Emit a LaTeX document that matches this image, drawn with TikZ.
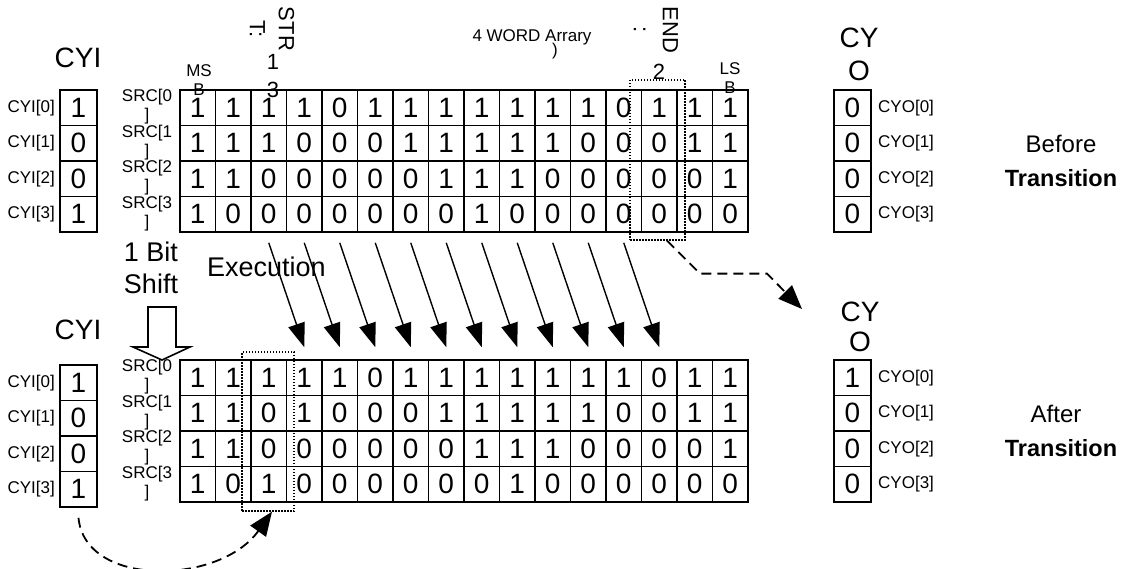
\documentclass[tikz,border=0pt]{standalone}
\usepackage{fontspec}
\setmainfont{Liberation Sans}
\usetikzlibrary{arrows.meta}
\begin{document}
\begin{tikzpicture}[x=1pt,y=-1pt,
  cell/.style={draw, line width=1.6pt, minimum width=35.5pt, minimum height=35.5pt, inner sep=0pt, font=\fontsize{28}{30}\selectfont},
  cybox/.style={cell, minimum width=37pt},
  small/.style={font=\fontsize{17}{19}\selectfont, inner sep=0pt, align=center},
  title/.style={font=\fontsize{28}{33}\selectfont, inner sep=0pt, align=center},
  big/.style={font=\fontsize{27}{32}\selectfont, inner sep=0pt, align=center},
  mid/.style={font=\fontsize{22}{29}\selectfont, inner sep=0pt, align=center},
  side/.style={font=\fontsize{24}{28}\selectfont, inner sep=0pt},
  sidebold/.style={font=\fontsize{23.5}{28}\selectfont\bfseries, inner sep=0pt},
  exarrow/.style={line width=1.4pt, -{Triangle[length=24pt,width=17pt]}},
  dashedarrow/.style={line width=1.8pt, dash pattern=on 10pt off 6pt, -{Triangle[length=24pt,width=19pt]}},
  dottedbox/.style={draw, line width=1.3pt, dash pattern=on 1.5pt off 1.5pt, inner sep=0pt},
]
\fill[white] (0,0) rectangle (1124,569);
\useasboundingbox (0,0) rectangle (1124,569);

% ---------- top (before) ----------
\foreach \row [count=\r from 0] in {{1,1,1,1,0,1,1,1,1,1,1,1,0,1,1,1},{1,1,1,0,0,0,1,1,1,1,1,0,0,0,1,1},{1,1,0,0,0,0,0,1,1,1,0,0,0,0,0,1},{1,0,0,0,0,0,0,0,1,0,0,0,0,0,0,0}}{
  \foreach \v [count=\c from 0] in \row {
    \node[cell] (t-\r-\c) at ({180+35.5*(\c+0.5)}, {90+35.5*(\r+0.5)}) {\v};
  }
}
\foreach \v [count=\r from 0] in {1,0,0,1}{
  \node[cybox] (cit-\r) at (78.5, {90+35.5*(\r+0.5)}) {\v};
  \node[small, anchor=east] (citl-\r) at (55, {90+35.5*(\r+0.5)}) {CYI[\r]};
  \node[small] (srct-\r) at (147, {107+35.5*\r}) {SRC[\r\\]};
}
\foreach \v [count=\r from 0] in {0,0,0,0}{
  \node[cybox] (cot-\r) at (852.5, {90+35.5*(\r+0.5)}) {\v};
  \node[small, anchor=west] (cotl-\r) at (878, {90+35.5*(\r+0.5)}) {CYO[\r]};
}

\node[title] (cyit) at (78,58) {CYI};
\node[title, font=\fontsize{28}{33}\selectfont] (cyot) at (859,54) {CY\\O};
\node[small] (msb) at (199,80) {MS\\B};
\node[small] (lsb) at (730,78) {LS\\B};
\node[mid, rotate=-90] (strl) at (272,29) {STR\\T:};
\node[mid, font=\fontsize{22}{28}\selectfont] (strn) at (273,76) {1\\3};
\node[small] (word) at (532,37) {4 WORD Arrary};
\node[small] (paren) at (555,51) {)};
\node[mid, rotate=-90] (endl) at (656,30) {END\\:};
\node[mid] (endn) at (659,72) {2};
\node[side] (before) at (1061,144) {Before};
\node[sidebold] (btrans) at (1061,178) {Transition};

\node[dottedbox, minimum width=55pt, minimum height=160pt] (sel1) at (657.5,160) {};

% ---------- bottom (after) ----------
\foreach \row [count=\r from 0] in {{1,1,1,1,1,0,1,1,1,1,1,1,1,0,1,1},{1,1,0,1,0,0,0,1,1,1,1,1,0,0,1,1},{1,1,0,0,0,0,0,0,1,1,1,0,0,0,0,1},{1,0,1,0,0,0,0,0,0,1,0,0,0,0,0,0}}{
  \foreach \v [count=\c from 0] in \row {
    \node[cell] (b-\r-\c) at ({180+35.5*(\c+0.5)}, {360+35.5*(\r+0.5)}) {\v};
  }
}
\foreach \v [count=\r from 0] in {1,0,0,1}{
  \node[cybox] (cib-\r) at (78.5, {365+35.5*(\r+0.5)}) {\v};
  \node[small, anchor=east] (cibl-\r) at (55, {365+35.5*(\r+0.5)}) {CYI[\r]};
  \node[small] (srcb-\r) at (147, {377+35.5*\r}) {SRC[\r\\]};
}
\foreach \v [count=\r from 0] in {1,0,0,0}{
  \node[cybox] (cob-\r) at (852.5, {360+35.5*(\r+0.5)}) {\v};
  \node[small, anchor=west] (cobl-\r) at (878, {360+35.5*(\r+0.5)}) {CYO[\r]};
}

\node[title] (cyib) at (78,330) {CYI};
\node[title, font=\fontsize{28}{30}\selectfont] (cyob) at (860,327) {CY\\O};
\node[side] (after) at (1056,414) {After};
\node[sidebold] (atrans) at (1061,448) {Transition};

\node[dottedbox, minimum width=52pt, minimum height=159pt] (sel2) at (268,431.5) {};

% ---------- middle ----------
\node[big] (shift) at (151,268) {1 Bit\\Shift};
\node[font=\fontsize{27}{30}\selectfont, inner sep=0pt, anchor=west] (exec) at (207,267) {Execution};
\draw[line width=1.6pt, fill=white] (148,307) -- (176,307) -- (176,347) -- (190,347) -- (162,360) -- (133,347) -- (148,347) -- cycle;

\foreach \k [evaluate=\k as \kk using int(\k+1)] in {2,...,12}{
  \draw[exarrow] ([yshift=-10pt]t-3-\k.south) -- ([yshift=12pt]b-0-\kk.north);
}

\coordinate (dend) at (802,309);
\draw[dashedarrow] ([xshift=9.5pt]sel1.south) -- ++(33,33) -- ++(67,0) -- (dend);
\draw[dashedarrow] ([yshift=-10pt]cib-3.south) .. controls (85,588) and (220,585) .. ([xshift=4pt]sel2.south);
\end{tikzpicture}
\end{document}
